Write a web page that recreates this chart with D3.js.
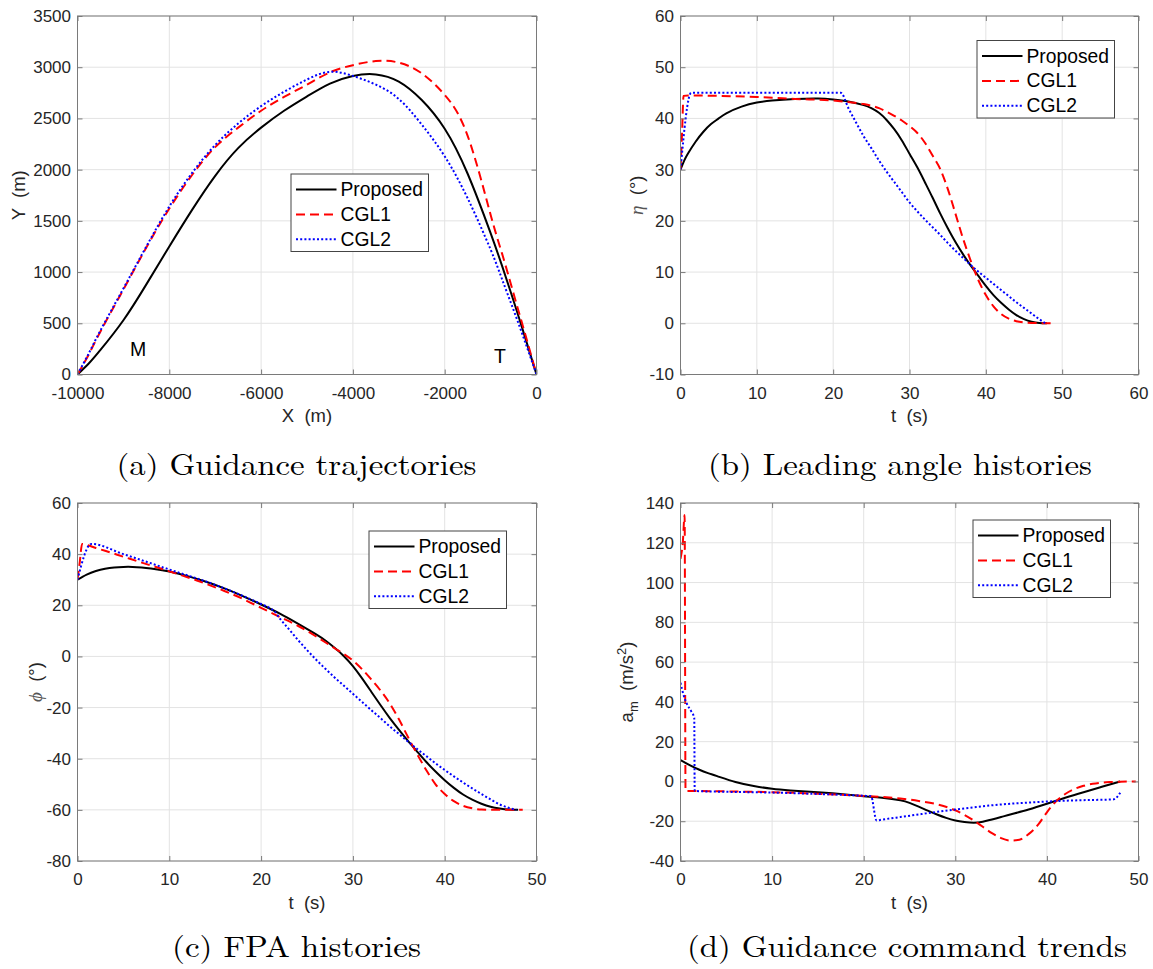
<!DOCTYPE html>
<html><head><meta charset="utf-8">
<script src="https://cdn.jsdelivr.net/npm/d3@7"></script>
<style>body{margin:0;background:#fff}svg{display:block}</style>
</head><body>
<svg id="fig" width="1153" height="969"></svg>
<script>
// ---------------- data ----------------
const seriesNames = ["Proposed", "CGL1", "CGL2"];

// (a) trajectories  X (m) -> Y (m)
const trajX        = [-10000,-9750,-9500,-9000,-8500,-8000,-7500,-7000,-6500,-6000,-5500,-5000,-4500,-4000,-3500,-3000,-2500,-2000,-1500,-1000,-750,-500,-250,0];
const trajProposed = [0,110,240,530,880,1250,1610,1940,2210,2410,2575,2715,2840,2915,2930,2860,2680,2400,1960,1380,1060,720,365,0];
const trajCGL1     = [0,200,420,830,1240,1620,1950,2220,2410,2575,2710,2830,2950,3020,3060,3045,2940,2730,2330,1560,1180,790,400,0];
const trajCGL2     = [0,210,430,840,1250,1640,1970,2240,2450,2620,2760,2880,2955,2915,2830,2690,2440,2130,1720,1220,930,630,320,0];
const markLabels   = ["M", "T"];
const markX        = [-8856, -926];
const markY        = [180, 112];

// (b) leading angle  t (s) -> eta (deg)
const etaTProposed = [0,0.5,1,2,3,4,5,6,8,10,12,15,18,20,22,24,25,26,27,28,29,30,31,32,33,34,35,36,37,38,39,40,41,42,43,44,45,46,47,48];
const etaProposed  = [30,31.8,33.2,35.5,37.4,38.9,40,41,42.3,43.1,43.5,43.8,43.9,43.7,43.3,42.6,42,41.1,39.7,37.9,35.7,33.1,30.5,27.6,24.6,21.5,18.6,15.9,13.5,11.3,9.3,7.3,5.5,4,2.7,1.6,0.8,0.3,0.06,0];
const etaTCGL1     = [0,0.2,0.4,1,5,10,15,20,22,24,26,27,28,29,30,31,32,33,34,35,36,37,38,39,40,41,42,43,44,45,46,49];
const etaCGL1      = [30,37,44.4,44.5,44.4,44.2,43.8,43.5,43.2,42.8,42,41.3,40.5,39.6,38.5,37.2,35.3,32.8,30.2,26.3,21.5,16.6,12.3,8.5,5.5,3.3,1.8,0.9,0.4,0.15,0.05,0];
const etaTCGL2     = [0,1.4,21,22,23,24,25,26,27,28,29,30,31,32,33,34,35,36,37,38,39,40,41,42,43,44,45,46,47,47.8];
const etaCGL2      = [30,45,45,42,39.2,36.5,34.2,31.8,29.6,27.6,25.6,23.6,21.9,20.3,18.8,17.3,15.7,14.2,12.8,11.4,10.1,8.9,7.7,6.5,5.3,4.1,3,1.9,0.8,0];

// (c) flight path angle  t (s) -> phi (deg)
const phiTProposed = [0,1,2,3,4,5,6,7,8,10,12,14,16,18,20,22,24,26,27,28,29,30,31,32,33,34,35,36,37,38,39,40,41,42,43,44,45,46,47,48];
const phiProposed  = [30,32,33.4,34.3,34.8,35,35,34.8,34.4,33.2,31.4,29.2,26.6,23.6,20.3,16.8,12.8,8.6,6.2,3.4,0.2,-3.8,-8.6,-13.8,-19,-24,-28.6,-33,-37.2,-41.3,-45,-48.4,-51.4,-54,-56,-57.6,-58.8,-59.5,-59.9,-60];
const phiTCGL1     = [0,0.25,0.5,1,2,3,5,7,10,13,16,18,20,22,24,26,28,29,30,31,32,33,34,35,36,37,38,39,40,41,42,43,44,45,48.5];
const phiCGL1      = [30,37,44,43.6,42.4,41.3,39,36.7,33.3,29.7,25.6,22.5,19,15.5,12,7.8,3.2,1,-1.6,-5,-9,-13.3,-18.3,-24.5,-31.5,-38.2,-44.5,-50,-53.8,-56.6,-58.4,-59.4,-59.9,-60,-60];
const phiTCGL2     = [0,1.5,5,10,15,20,21,21.5,22,23,24,25,26,27,28,29,30,31,32,33,34,35,36,37,38,39,40,41,42,43,44,45,46,47.8];
const phiCGL2      = [30,44,40,34,28,20.5,18.8,17.5,15,10.8,6.5,2.5,-1.3,-4.8,-8.2,-11.4,-14.6,-17.8,-21,-24.1,-27.3,-30.3,-33.3,-36.2,-39,-41.8,-44.4,-46.9,-49.3,-51.6,-53.8,-55.9,-57.9,-60];

// (d) guidance command  t (s) -> a_m (m/s^2)
const amTProposed  = [0,1,2,3,4,6,8,10,12,15,18,20,22,24,25,26,27,28,29,30,31,32,33,34,35,36,38,40,42,44,46,48];
const amProposed   = [10.7,8.2,6,4.2,2.7,-0.3,-2.3,-3.7,-4.5,-5.4,-6.5,-7.4,-8.2,-9.5,-10.8,-12.7,-14.7,-16.6,-18.3,-19.6,-20.4,-20.8,-20.3,-19.1,-17.9,-16.6,-14.1,-11.2,-8.2,-5.4,-2.7,0];
const amTCGL1      = [0,0.25,0.45,0.55,1,5,10,15,20,22,24,26,28,30,31,32,33,34,35,36,37,38,39,40,41,42,43,44,45,46,47,48,49.7];
const amCGL1       = [112,120,134,-4.8,-4.8,-5,-5.4,-6.2,-7.3,-7.8,-8.6,-9.8,-11.5,-14.5,-16.8,-19.6,-22.8,-26,-28.5,-29.7,-29.3,-26.5,-22,-15.5,-10,-6.3,-3.8,-2.2,-1.2,-0.6,-0.3,-0.1,0];
const amTCGL2      = [0,0.3,0.7,1.2,1.5,1.55,5,10,15,20,20.8,21.4,22,24,26,28,30,32,34,36,38,40,42,44,46,47.3,48];
const amCGL2       = [49.6,44,39,35,32,-4.8,-5.2,-5.6,-6.3,-7.2,-7.4,-19.6,-19.2,-17.9,-16.6,-15.3,-14.1,-13,-12,-11.2,-10.6,-10.1,-9.7,-9.4,-9.2,-9,-5.7];

// tick values / labels
const ticksXa = [-10000,-8000,-6000,-4000,-2000,0];
const labelsXa = ["-10000","-8000","-6000","-4000","-2000","0"];
const ticksYa = [0,500,1000,1500,2000,2500,3000,3500];
const labelsYa = ["0","500","1000","1500","2000","2500","3000","3500"];
const ticksXb = [0,10,20,30,40,50,60];
const labelsXb = ["0","10","20","30","40","50","60"];
const ticksYb = [-10,0,10,20,30,40,50,60];
const labelsYb = ["-10","0","10","20","30","40","50","60"];
const ticksXcd = [0,10,20,30,40,50];
const labelsXcd = ["0","10","20","30","40","50"];
const ticksYc = [-80,-60,-40,-20,0,20,40,60];
const labelsYc = ["-80","-60","-40","-20","0","20","40","60"];
const ticksYd = [-40,-20,0,20,40,60,80,100,120,140];
const labelsYd = ["-40","-20","0","20","40","60","80","100","120","140"];

const captions = ["(a) Guidance trajectories", "(b) Leading angle histories", "(c) FPA histories", "(d) Guidance command trends"];

// ---------------- style ----------------
const SANS = "'Liberation Sans', Arial, Helvetica, sans-serif";
const SERIF = "'Latin Modern Roman','CMU Serif','Liberation Serif','Times New Roman',serif";
const styles = [
  {color:"#000000", dash:null},
  {color:"#ff0000", dash:"9,5"},
  {color:"#0000ff", dash:"2,2.2"}
];
const gridColor = "#e3e3e3", axisColor = "#7a7a7a", textColor = "#262626";

const panels = [
  {box:[77.5,16,536.5,374.5], xd:[-10000,0], yd:[0,3500], xt:ticksXa, xl:labelsXa, yt:ticksYa, yl:labelsYa,
   data:[[trajX,trajProposed],[trajX,trajCGL1],[trajX,trajCGL2]], curves:["natural","natural","natural"],
   legend:[291,174], ylabX:53, xlabel:"X  (m)", ylabel:"Y", caption:[296.5,475,360]},
  {box:[680.5,16,1138.5,374.5], xd:[0,60], yd:[-10,60], xt:ticksXb, xl:labelsXb, yt:ticksYb, yl:labelsYb,
   data:[[etaTProposed,etaProposed],[etaTCGL1,etaCGL1],[etaTCGL2,etaCGL2]], curves:["natural","mono","mono"],
   legend:[977,40.5], ylabX:37.5, xlabel:"t  (s)", ylabel:"eta", caption:[900,475,384]},
  {box:[77.5,503,536.5,861], xd:[0,50], yd:[-80,60], xt:ticksXcd, xl:labelsXcd, yt:ticksYc, yl:labelsYc,
   data:[[phiTProposed,phiProposed],[phiTCGL1,phiCGL1],[phiTCGL2,phiCGL2]], curves:["natural","mono","mono"],
   legend:[369,531], ylabX:35.5, xlabel:"t  (s)", ylabel:"phi", caption:[296.5,957,249]},
  {box:[680.5,503,1138.5,861], xd:[0,50], yd:[-40,140], xt:ticksXcd, xl:labelsXcd, yt:ticksYd, yl:labelsYd,
   data:[[amTProposed,amProposed],[amTCGL1,amCGL1],[amTCGL2,amCGL2]], curves:["natural","mono","mono"],
   legend:[973,520], ylabX:48, xlabel:"t  (s)", ylabel:"am", caption:[907,957,440]}
];

const svg = d3.select("#fig");
const defs = svg.append("defs");

panels.forEach((p, pi) => {
  const [L, T, R, B] = p.box;
  const x = d3.scaleLinear().domain(p.xd).range([L, R]);
  const y = d3.scaleLinear().domain(p.yd).range([B, T]);
  const g = svg.append("g");

  // grid
  g.append("g").selectAll("line").data(p.xt).join("line")
    .attr("x1", d => x(d)).attr("x2", d => x(d)).attr("y1", T).attr("y2", B)
    .attr("stroke", gridColor).attr("stroke-width", 1);
  g.append("g").selectAll("line").data(p.yt).join("line")
    .attr("y1", d => y(d)).attr("y2", d => y(d)).attr("x1", L).attr("x2", R)
    .attr("stroke", gridColor).attr("stroke-width", 1);

  // clip
  const cid = "clip" + pi;
  defs.append("clipPath").attr("id", cid).append("rect")
    .attr("x", L).attr("y", T).attr("width", R - L).attr("height", B - T);

  // series
  p.data.forEach((s, si) => {
    const curve = p.curves[si] === "natural" ? d3.curveNatural : d3.curveMonotoneX;
    const line = d3.line().x(d => x(d[0])).y(d => y(d[1])).curve(curve);
    const pts = d3.zip(s[0], s[1]);
    g.append("path").datum(pts)
      .attr("clip-path", `url(#${cid})`)
      .attr("d", line)
      .attr("fill", "none")
      .attr("stroke", styles[si].color)
      .attr("stroke-width", 2)
      .attr("stroke-dasharray", styles[si].dash)
      .attr("stroke-linejoin", "round");
  });

  // axes
  const fmtX = (d, i) => p.xl[i];
  const fmtY = (d, i) => p.yl[i];
  const ax = [
    g.append("g").attr("transform", `translate(0,${B})`)
      .call(d3.axisBottom(x).tickValues(p.xt).tickFormat(fmtX).tickSizeInner(-5).tickSizeOuter(0).tickPadding(12)),
    g.append("g").attr("transform", `translate(${L},0)`)
      .call(d3.axisLeft(y).tickValues(p.yt).tickFormat(fmtY).tickSizeInner(-5).tickSizeOuter(0).tickPadding(6.5)),
    g.append("g").attr("transform", `translate(0,${T})`)
      .call(d3.axisTop(x).tickValues(p.xt).tickFormat("").tickSizeInner(-5).tickSizeOuter(0)),
    g.append("g").attr("transform", `translate(${R},0)`)
      .call(d3.axisRight(y).tickValues(p.yt).tickFormat("").tickSizeInner(-5).tickSizeOuter(0))
  ];
  ax.forEach(a => {
    a.select(".domain").remove();
    a.selectAll(".tick line").attr("stroke", axisColor);
    a.selectAll(".tick text").attr("fill", textColor).attr("font-size", 17).attr("font-family", SANS);
  });
  g.append("rect").attr("x", L).attr("y", T).attr("width", R - L).attr("height", B - T)
    .attr("fill", "none").attr("stroke", axisColor).attr("stroke-width", 1);

  // x label
  g.append("text").attr("x", (L + R) / 2).attr("y", B + 47.5)
    .attr("text-anchor", "middle").attr("font-family", SANS).attr("font-size", 18.5)
    .attr("fill", textColor).style("white-space", "pre").text(p.xlabel);

  // y label
  const yl = g.append("text")
    .attr("transform", `translate(${L - p.ylabX},${(T + B) / 2}) rotate(-90)`)
    .attr("text-anchor", "middle").attr("font-family", SANS).attr("font-size", 18.5)
    .attr("fill", textColor).style("white-space", "pre");
  if (p.ylabel === "Y") {
    yl.text("Y  (m)");
  } else if (p.ylabel === "eta") {
    yl.append("tspan").attr("font-family", SERIF).attr("font-style", "italic").attr("font-size", 19).attr("fill", "#555").text("η");
    yl.append("tspan").text("  (°)");
  } else if (p.ylabel === "phi") {
    yl.append("tspan").attr("font-family", SERIF).attr("font-style", "italic").attr("font-size", 19).attr("fill", "#555").text("ϕ");
    yl.append("tspan").text("  (°)");
  } else {
    yl.append("tspan").text("a");
    yl.append("tspan").attr("font-size", 13).attr("dy", 5).text("m");
    yl.append("tspan").attr("dy", -5).text("  (m/s");
    yl.append("tspan").attr("font-size", 13).attr("dy", -7).text("2");
    yl.append("tspan").attr("dy", 7).text(")");
  }

  // legend
  const [lx, ly] = p.legend;
  const lg = g.append("g");
  lg.append("rect").attr("x", lx).attr("y", ly).attr("width", 137.5).attr("height", 77.5)
    .attr("fill", "#fff").attr("stroke", "#444").attr("stroke-width", 1);
  seriesNames.forEach((n, i) => {
    const ry = ly + 15.5 + 24.9 * i;
    lg.append("line").attr("x1", lx + 5).attr("x2", lx + 45.5).attr("y1", ry).attr("y2", ry)
      .attr("stroke", styles[i].color).attr("stroke-width", 2).attr("stroke-dasharray", styles[i].dash);
    lg.append("text").attr("x", lx + 49.5).attr("y", ry).attr("dominant-baseline", "central")
      .attr("font-family", SANS).attr("font-size", 19.3).attr("fill", "#000").text(n);
  });

  // caption
  g.append("text").attr("x", p.caption[0]).attr("y", p.caption[1])
    .attr("text-anchor", "middle").attr("font-family", SERIF).attr("font-size", 30)
    .attr("fill", "#000").attr("textLength", p.caption[2]).attr("lengthAdjust", "spacingAndGlyphs")
    .text(captions[pi]);

  // annotations (panel a)
  if (pi === 0) {
    markLabels.forEach((m, i) => {
      g.append("text").attr("x", x(markX[i])).attr("y", y(markY[i]))
        .attr("font-family", SANS).attr("font-size", 19.5).attr("fill", "#000").text(m);
    });
  }
});
</script>
</body></html>
